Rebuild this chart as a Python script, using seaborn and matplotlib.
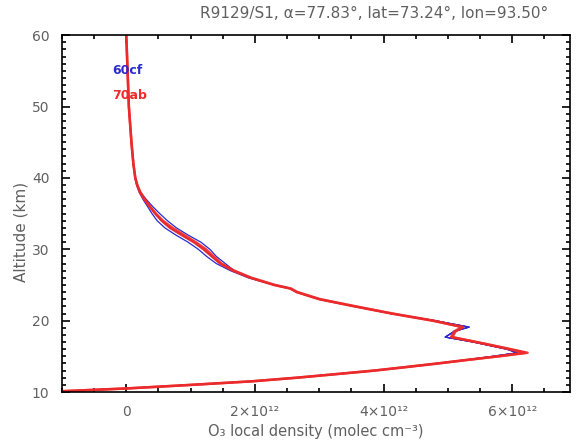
import numpy as np
import pandas as pd
import seaborn as sns
import matplotlib.pyplot as plt
from matplotlib.ticker import MultipleLocator, FuncFormatter

# Altitude grid (km)
alt = [10.0, 10.5, 11.0, 11.5, 12.0, 12.5, 13.0, 13.5, 14.0, 14.5, 15.0, 15.5,
       16.0, 16.5, 17.0, 17.7, 18.5, 19.1, 20.0, 21.0, 22.0, 23.0, 24.0, 24.5,
       25.0, 26.0, 27.0, 28.0, 29.0, 30.0, 31.0, 32.0, 33.0, 34.0, 35.0, 36.0,
       37.0, 38.0, 39.0, 40.0, 42.0, 45.0, 50.0, 55.0, 60.0]

# O3 local density, units of 1e12 molec cm-3
red_a = [-1.3, 0.0, 1.0, 1.95, 2.64, 3.25, 3.85, 4.35, 4.84, 5.30, 5.79, 6.24,
         5.98, 5.72, 5.45, 5.07, 5.12, 5.24, 4.76, 4.12, 3.55, 3.00, 2.65, 2.55,
         2.30, 1.93, 1.66, 1.46, 1.33, 1.20, 1.05, 0.86, 0.68, 0.55, 0.45, 0.36,
         0.28, 0.21, 0.17, 0.14, 0.11, 0.08, 0.04, 0.02, 0.0]
red_b = [-1.3, 0.0, 1.0, 1.95, 2.64, 3.25, 3.85, 4.35, 4.84, 5.30, 5.77, 6.20,
         5.96, 5.70, 5.44, 5.05, 5.10, 5.22, 4.78, 4.14, 3.57, 3.02, 2.66, 2.56,
         2.31, 1.95, 1.68, 1.48, 1.36, 1.24, 1.08, 0.90, 0.72, 0.57, 0.46, 0.37,
         0.29, 0.22, 0.17, 0.14, 0.11, 0.08, 0.04, 0.02, 0.0]
blue_a = [-1.3, 0.0, 1.0, 1.95, 2.64, 3.25, 3.85, 4.35, 4.84, 5.28, 5.70, 6.08,
          5.92, 5.66, 5.40, 4.96, 5.10, 5.33, 4.80, 4.12, 3.55, 3.00, 2.65, 2.55,
          2.30, 1.93, 1.66, 1.46, 1.33, 1.20, 1.05, 0.86, 0.68, 0.55, 0.45, 0.36,
          0.28, 0.21, 0.17, 0.14, 0.11, 0.08, 0.04, 0.02, 0.0]
blue_b = [-1.3, 0.0, 1.0, 1.95, 2.64, 3.25, 3.85, 4.35, 4.84, 5.28, 5.70, 6.08,
          5.92, 5.66, 5.40, 4.96, 5.10, 5.33, 4.80, 4.12, 3.55, 3.00, 2.65, 2.55,
          2.30, 1.93, 1.68, 1.54, 1.40, 1.30, 1.16, 0.96, 0.78, 0.64, 0.52, 0.41,
          0.31, 0.22, 0.17, 0.14, 0.11, 0.08, 0.04, 0.02, 0.0]
blue_c = [-1.3, 0.0, 1.0, 1.95, 2.64, 3.25, 3.85, 4.35, 4.84, 5.28, 5.70, 6.08,
          5.92, 5.66, 5.40, 4.96, 5.10, 5.33, 4.80, 4.12, 3.55, 3.00, 2.65, 2.55,
          2.30, 1.90, 1.62, 1.40, 1.25, 1.12, 0.96, 0.77, 0.60, 0.48, 0.40, 0.33,
          0.26, 0.20, 0.16, 0.14, 0.11, 0.08, 0.04, 0.02, 0.0]

blue_runs = [blue_a, blue_b, blue_c]
red_runs = [red_a, red_b]

sns.set_style("ticks")
plt.rcParams['font.family'] = ['DejaVu Sans']
txt = '#606060'

fig = plt.figure(figsize=(5.76, 4.45), dpi=100)
ax = fig.add_axes([0.1076, 0.119, 0.882, 0.802])

for run in blue_runs:
    sns.lineplot(x=np.array(run) * 1e12, y=alt, sort=False, estimator=None,
                 color='#2a2ad0', lw=0.9, ax=ax)
for run in red_runs:
    sns.lineplot(x=np.array(run) * 1e12, y=alt, sort=False, estimator=None,
                 color='#ee2a2a', lw=1.8, alpha=0.9, ax=ax)

ax.set_xlim(-1.0e12, 6.9e12)
ax.set_ylim(10, 60)
ax.xaxis.set_major_locator(MultipleLocator(2e12))
ax.xaxis.set_minor_locator(MultipleLocator(0.5e12))
ax.yaxis.set_major_locator(MultipleLocator(10))
ax.yaxis.set_minor_locator(MultipleLocator(1))

sup = str.maketrans('0123456789', '⁰¹²³⁴⁵⁶⁷⁸⁹')


def fmt(v, pos):
    if abs(v) < 1:
        return '0'
    return '%d×10%s' % (round(v / 1e12), '12'.translate(sup))


ax.xaxis.set_major_formatter(FuncFormatter(fmt))
ax.tick_params(which='both', direction='in', top=True, right=True,
               colors='black', labelcolor=txt, labelsize=10, width=1.2)
ax.tick_params(which='major', length=6)
ax.tick_params(which='minor', length=3)
ax.tick_params(axis='x', which='major', pad=9)
ax.tick_params(axis='y', which='major', pad=9)
for s in ax.spines.values():
    s.set_linewidth(1.2)
    s.set_color('black')

ax.set_xlabel('O₃ local density (molec cm⁻³)', color=txt, fontsize=10.5, labelpad=4)
ax.set_ylabel('Altitude (km)', color=txt, fontsize=11, labelpad=8)
ax.yaxis.set_label_coords(-0.066, 0.45)
ax.set_title('R9129/S1, α=77.83°, lat=73.24°, lon=93.50°', color=txt,
             fontsize=11, x=0.614, pad=12)

ax.text(0.098, 0.90, '60cf', transform=ax.transAxes, color='#2a2ad0',
        fontsize=9, fontweight='bold', va='center')
ax.text(0.098, 0.83, '70ab', transform=ax.transAxes, color='#ee2a2a',
        fontsize=9, fontweight='bold', va='center')

fig.savefig('out.png', dpi=100)
